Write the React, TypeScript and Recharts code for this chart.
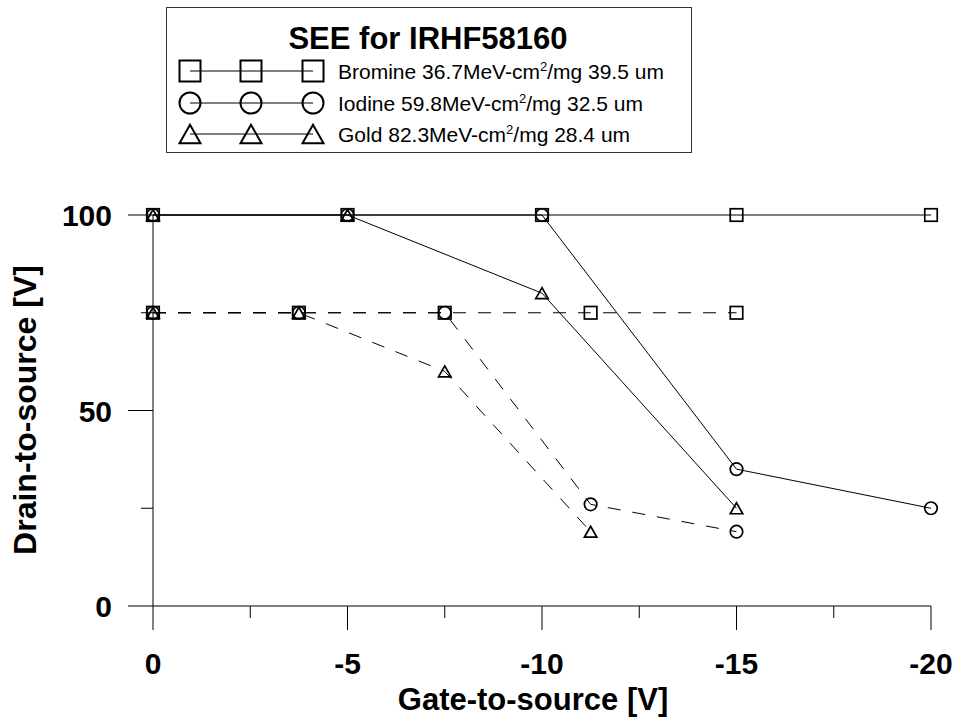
import { LineChart, Line, XAxis, YAxis, Legend } from 'recharts';

const FONT = '"Liberation Sans", Arial, sans-serif';

// gate bias steps (V) for the 100 V and the 75 V drain runs
const vgsAt100 = [0, -5, -10, -15, -20];
const vgsAt75 = [0, -3.75, -7.5, -11.25, -15];

// passing drain-to-source voltage per ion
const bromine100 = [100, 100, 100, 100, 100];
const iodine100 = [100, 100, 100, 35, 25];
const gold100 = [100, 100, 80, 25];

const bromine75 = [75, 75, 75, 75, 75];
const iodine75 = [75, 75, 75, 26, 19];
const gold75 = [75, 75, 60, 19];

const xTicks = [0, -2.5, -5, -7.5, -10, -12.5, -15, -17.5, -20];
const yTicks = [0, 25, 50, 75, 100];

const ions = ['Bromine', 'Iodine', 'Gold'];
const ionLet = ['36.7', '59.8', '82.3'];
const ionRange = ['39.5', '32.5', '28.4'];
const shapes = ['square', 'circle', 'triangle'];

const pts = (xs: number[], ys: number[]) => ys.map((v, i) => ({ x: xs[i], y: v }));

const series = [
  { key: 'br75', shape: 'square', dashed: true, data: pts(vgsAt75, bromine75) },
  { key: 'io75', shape: 'circle', dashed: true, data: pts(vgsAt75, iodine75) },
  { key: 'au75', shape: 'triangle', dashed: true, data: pts(vgsAt75, gold75) },
  { key: 'br100', shape: 'square', dashed: false, data: pts(vgsAt100, bromine100) },
  { key: 'io100', shape: 'circle', dashed: false, data: pts(vgsAt100, iodine100) },
  { key: 'au100', shape: 'triangle', dashed: false, data: pts(vgsAt100, gold100) },
];

function Marker({ shape, cx, cy, size, sw }: { shape: string; cx: number; cy: number; size: number; sw: number }) {
  const h = size / 2;
  if (shape === 'square') {
    return <rect x={cx - h} y={cy - h} width={size} height={size} fill="none" stroke="#000" strokeWidth={sw} />;
  }
  if (shape === 'circle') {
    return <circle cx={cx} cy={cy} r={h} fill="none" stroke="#000" strokeWidth={sw} />;
  }
  const th = size * 0.88;
  return (
    <polygon
      points={`${cx - h},${cy + th / 2} ${cx + h},${cy + th / 2} ${cx},${cy - th / 2}`}
      fill="none"
      stroke="#000"
      strokeWidth={sw}
    />
  );
}

function XTick({ x, y, payload }: any) {
  const major = payload.value % 5 === 0;
  return (
    <g>
      <line x1={x} x2={x} y1={y} y2={y + (major ? 24 : 12)} stroke="#000" />
      {major && (
        <text x={x} y={y + 68} textAnchor="middle" fontFamily={FONT} fontWeight="bold" fontSize={30} fill="#000">
          {payload.value}
        </text>
      )}
    </g>
  );
}

function YTick({ x, y, payload }: any) {
  const major = payload.value % 50 === 0;
  return (
    <g>
      <line x1={x - (major ? 25 : 12)} x2={x} y1={y} y2={y} stroke="#000" />
      {major && (
        <text x={x - 41} y={y + 11} textAnchor="end" fontFamily={FONT} fontWeight="bold" fontSize={30} fill="#000">
          {payload.value}
        </text>
      )}
    </g>
  );
}

function LegendBox() {
  const rowY = [64, 96, 127];
  const mx = [24, 85, 147];
  return (
    <svg width={528} height={148} style={{ display: 'block' }}>
      <rect x={0.5} y={0.5} width={525} height={145} fill="#fff" stroke="#333" />
      <text x={262} y={42} textAnchor="middle" fontFamily={FONT} fontWeight="bold" fontSize={31} fill="#000">
        SEE for IRHF58160
      </text>
      {ions.map((name, i) => (
        <g key={name}>
          <line x1={mx[0]} x2={mx[2]} y1={rowY[i]} y2={rowY[i]} stroke="#000" />
          {mx.map((x) => (
            <Marker key={x} shape={shapes[i]} cx={x} cy={rowY[i]} size={21} sw={2} />
          ))}
          <text x={172} y={rowY[i] + 8} fontFamily={FONT} fontSize={21} fill="#000">
            {name} {ionLet[i]}MeV-cm
            <tspan fontSize={13} dy={-8}>2</tspan>
            <tspan dy={8}>/mg {ionRange[i]} um</tspan>
          </text>
        </g>
      ))}
    </svg>
  );
}

export default function App() {
  return (
    <div style={{ width: 956, height: 717, background: '#fff' }}>
      <style>{`body{margin:0}`}</style>
      <LineChart width={956} height={717} margin={{ top: 215, right: 25, bottom: 71, left: 93 }}>
        <XAxis
          type="number"
          dataKey="x"
          domain={[-20, 0]}
          reversed
          ticks={xTicks}
          interval={0}
          height={40}
          tickLine={false}
          tickSize={0}
          tickMargin={0}
          axisLine={{ stroke: '#000' }}
          tick={<XTick />}
          label={{
            content: () => (
              <text x={533} y={710} textAnchor="middle" fontFamily={FONT} fontWeight="bold" fontSize={31} fill="#000">
                Gate-to-source [V]
              </text>
            ),
          }}
        />
        <YAxis
          type="number"
          domain={[0, 100]}
          ticks={yTicks}
          interval={0}
          width={60}
          tickLine={false}
          tickSize={0}
          tickMargin={0}
          axisLine={{ stroke: '#000' }}
          tick={<YTick />}
          label={{
            content: () => (
              <text
                x={36}
                y={410}
                transform="rotate(-90 36 410)"
                textAnchor="middle"
                fontFamily={FONT}
                fontWeight="bold"
                fontSize={32}
                fill="#000"
              >
                Drain-to-source [V]
              </text>
            ),
          }}
        />
        <Legend
          layout="vertical"
          align="center"
          verticalAlign="middle"
          wrapperStyle={{ left: 166, top: 7, width: 528, height: 148 }}
          content={() => <LegendBox />}
        />
        {series.map((s) => (
          <Line
            key={s.key}
            data={s.data}
            dataKey="y"
            type="linear"
            stroke="#000"
            strokeWidth={1}
            strokeDasharray={s.dashed ? '13 12' : undefined}
            isAnimationActive={false}
            legendType="none"
            dot={(p: any) => (
              <Marker key={`${s.key}-${p.index}`} shape={s.shape} cx={p.cx} cy={p.cy} size={12.5} sw={1.7} />
            )}
            activeDot={false}
          />
        ))}
      </LineChart>
    </div>
  );
}
